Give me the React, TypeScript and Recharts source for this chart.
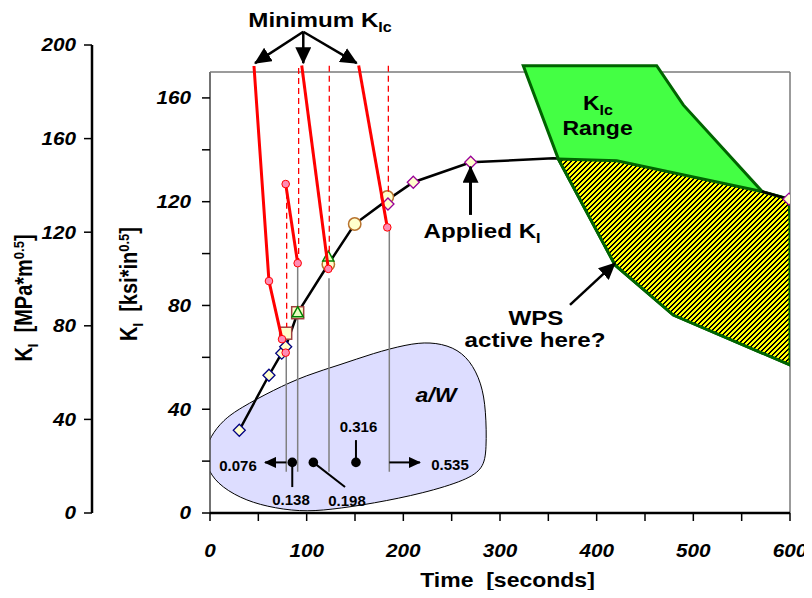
import { Area, ComposedChart, Label, Line, ReferenceDot, ReferenceLine, Scatter, XAxis, YAxis } from "recharts";

const FONT = "'Liberation Sans', Arial, Helvetica, sans-serif";
const SX = 1.15; // glyphs in the source are drawn a bit wide
type Pt = [number, number];
const rows = (a: Pt[]) => a.map(([t, k]) => ({ t, k }));

// axes
const timeTicks = [0, 50, 100, 150, 200, 250, 300, 350, 400, 450, 500, 550, 600];
const ksiTicks = [0, 20, 40, 60, 80, 100, 120, 140, 160];
const mpaTicks = [0, 40, 80, 120, 160, 200];
const frameTop = 170;

// applied K_I vs time  [s, ksi*in^0.5]
const appliedKI: Pt[] = [
  [30.3, 31.9], [61, 53.1], [74.2, 61.6], [78.3, 64.1], [90.7, 77.2], [122.4, 95.9], [149.7, 111.4],
  [183.6, 120.7], [210.3, 127.5], [269.7, 135.2], [355, 136.7], [420.7, 135.8], [570.7, 123.9], [599, 121],
];
const appliedTail: Pt[] = [[570.7, 123.9], [599, 121]];

// minimum K_Ic curves
const minKicA: Pt[] = [[45.5, 172.3], [61, 89.4], [74.5, 67]];
const minKicB: Pt[] = [[78.3, 126.8], [90.7, 96.3]];
const minKicC: Pt[] = [[94.9, 172.5], [122.4, 94.1]];
const minKicD: Pt[] = [[153.8, 172.5], [183.4, 110.1]];
const minKicMarks: Pt[] = [[61, 89.4], [74.5, 67], [78.3, 61.8], [78.3, 126.8], [90.7, 96.3], [122.4, 94.1], [183.4, 110.1]];

// symbols on the applied curve
const diamondsEarly: Pt[] = [[30.3, 31.9], [61, 53.1], [74.2, 61.6], [78.3, 64.1]];
const diamondsLate: Pt[] = [[184.1, 119.1], [210.3, 127.5], [269.7, 135.2], [599, 121]];
const circles: Pt[] = [[122.4, 95.9], [149.7, 111.4], [183.4, 121.8]];
const squares: Pt[] = [[78.3, 69.3], [90.7, 77.2]];
const triangles: Pt[] = [[90.7, 77.2], [122.4, 98.7]];

// vertical markers
const dashT = [79.3, 91.7, 123.4, 184.5];
const dashTop = [123.4, 171.5, 172.4, 172.4];
const dashBottom = [71.7, 97.5, 100.2, 122.6];
const grayT = [78.9, 90.7, 123.1, 185.5];
const grayTop = [60.9, 95, 90.5, 110.1];
const grayBottom = 15.9;

// K_Ic band and WPS region
const kicBand: Pt[] = [
  [324.1, 172.4], [462.1, 172.4], [489.6, 157.3], [600, 112.2], [600, 57.1], [479.3, 76.3], [419, 95.6], [360.3, 136.5],
];
const wpsRegion: Pt[] = [
  [360.3, 136.5], [420.7, 135.8], [570.7, 123.9], [599, 121], [600, 112.2], [600, 57.1], [479.3, 76.3], [419, 95.6],
];

// a/W bubble
const awBlob: Pt[] = [
  [-5.2, 23], [0, 29.4], [13.8, 35.9], [31, 40.4], [65.5, 47.4], [100, 53.2], [134.5, 57.1], [169, 61.6],
  [203.5, 65], [227.6, 66], [251.7, 64.1], [269, 59], [281, 50], [285.5, 39.7], [286.2, 24.3], [282.8, 17.2],
  [265.5, 12.7], [220.7, 7.6], [169, 3.7], [124, 1.2], [93, 0.5], [58.6, 2.4], [31, 5.7], [6.9, 11.4], [-3.4, 17.8],
];
const awDots: Pt[] = [[85.1, 19.5], [106.9, 19.5], [151, 19.5]];
const awLeaders: Pt[][] = [[[85.1, 19.5], [85.1, 10]], [[106.9, 19.5], [139.7, 10]], [[151, 19.5], [151, 28.1]]];
const awArrows: Pt[][] = [[[79, 19.5], [56.9, 19.5]], [[185.5, 19.5], [217.2, 19.5]]];

// callouts
const minKicFrom: Pt = [96.5, 185.5];
const minKicTips: Pt[] = [[46.6, 173.4], [96.5, 173.4], [151.8, 173.4]];
const appliedArrow: Pt[] = [[269.5, 114.9], [269.5, 133.5]];
const wpsArrow: Pt[] = [[372.4, 80.2], [419, 96.3]];

const seg = (a: Pt, b: Pt) => [{ x: a[0], y: a[1] }, { x: b[0], y: b[1] }];

const textStyle = { fontFamily: FONT, fontWeight: "bold" as const, fill: "#000" };

// pixel-aligned diagonal hatch tile
const HATCH = 5;
const hatchCells: Pt[] = [];
for (let y = 0; y < HATCH; y++) for (let x = 0; x < HATCH; x++) if ((x + y) % HATCH < 2) hatchCells.push([x, y]);

function Diamond({ cx, cy, stroke }: { cx: number; cy: number; stroke: string }) {
  const r = 6;
  return <polygon points={`${cx},${cy - r} ${cx + r},${cy} ${cx},${cy + r} ${cx - r},${cy}`} fill="#FFFFCC" stroke={stroke} strokeWidth={1.3} />;
}

const ksiTick = (p: any) => {
  const v = p.payload.value;
  if (v % 40 !== 0) return <g />;
  return (
    <text transform={`translate(${p.x},${p.y}) scale(${SX},1)`} textAnchor="end" dy="0.36em" fontSize={18} fontStyle="italic" {...textStyle}>
      {v}
    </text>
  );
};

const mpaTick = (p: any) => (
  <text transform={`translate(${p.x},${p.y}) scale(${SX},1)`} textAnchor="end" dy="0.36em" fontSize={18} fontStyle="italic" {...textStyle}>
    {p.payload.value}
  </text>
);

const timeTick = (p: any) => {
  const v = p.payload.value;
  if (v % 100 !== 0) return <g />;
  return (
    <text transform={`translate(${p.x},${p.y}) scale(${SX},1)`} textAnchor="middle" dy="0.36em" fontSize={18} fontStyle="italic" {...textStyle}>
      {v}
    </text>
  );
};

const timeTitle = (p: any) => {
  const vb = p.viewBox;
  return (
    <text transform={`translate(${vb.x + vb.width / 2 + 7.5},${vb.y + vb.height + 13.7}) scale(${SX},1)`} textAnchor="middle" fontSize={20} {...textStyle}>
      {"Time\u00a0\u00a0[seconds]"}
    </text>
  );
};

const kTitle = (unit: string, dx: number, dy: number) => (p: any) => {
  const vb = p.viewBox;
  return (
    <text transform={`translate(${vb.x + dx},${vb.y + vb.height / 2 + dy}) rotate(-90) scale(1,${SX})`} textAnchor="middle" fontSize={20} {...textStyle}>
      K<tspan fontSize={13} dy={5}>I</tspan>
      <tspan dy={-5}>{"\u00a0\u00a0[" + unit}</tspan>
      <tspan fontSize={13} dy={-7}>0.5</tspan>
      <tspan dy={7}>]</tspan>
    </text>
  );
};

const arrowShape = (marker: string, width: number) => (p: any) => (
  <line x1={p.x1} y1={p.y1} x2={p.x2} y2={p.y2} stroke="#000" strokeWidth={width} markerEnd={`url(#${marker})`} />
);

function note(key: string, at: Pt, size: number, content: any, italic = false, sx = SX) {
  return (
    <ReferenceDot
      key={key}
      x={at[0]}
      y={at[1]}
      yAxisId="ksi"
      r={0}
      ifOverflow="visible"
      zIndex={600}
      shape={(p: any) => (
        <text transform={`translate(${p.cx},${p.cy}) scale(${sx},1)`} textAnchor="middle" dy="0.36em" fontSize={size} fontStyle={italic ? "italic" : "normal"} {...textStyle}>
          {content}
        </text>
      )}
    />
  );
}

export default function App() {
  return (
    <ComposedChart width={804} height={582} margin={{ top: 37, right: 22, bottom: 17, left: 0 }}>
      <defs>
        <pattern id="hatch" width={HATCH} height={HATCH} patternUnits="userSpaceOnUse">
          <rect width={HATCH} height={HATCH} fill="#FFFF00" />
          {hatchCells.map(([x, y]) => (
            <rect key={`${x}-${y}`} x={x} y={y} width={1} height={1} fill="#000" shapeRendering="crispEdges" />
          ))}
        </pattern>
        <marker id="ah" markerUnits="userSpaceOnUse" markerWidth="17" markerHeight="16" refX="16" refY="8" orient="auto">
          <path d="M0,0 L17,8 L0,16 z" fill="#000" />
        </marker>
        <marker id="ahs" markerUnits="userSpaceOnUse" markerWidth="12" markerHeight="11" refX="11" refY="5.5" orient="auto">
          <path d="M0,0 L12,5.5 L0,11 z" fill="#000" />
        </marker>
      </defs>

      <XAxis
        type="number"
        dataKey="t"
        domain={[0, 600]}
        allowDataOverflow
        ticks={timeTicks}
        interval={0}
        tick={timeTick}
        tickSize={8}
        tickMargin={30}
        height={60}
        axisLine={{ stroke: "#000", strokeWidth: 2.5 }}
        tickLine={{ stroke: "#000", strokeWidth: 1.5 }}
      >
        <Label content={timeTitle} />
      </XAxis>
      <YAxis
        yAxisId="ksi"
        type="number"
        domain={[0, 180.4]}
        ticks={ksiTicks}
        interval={0}
        tick={ksiTick}
        tickSize={8}
        tickMargin={11}
        width={118}
        axisLine={false}
        tickLine={{ stroke: "#000", strokeWidth: 1.5 }}
      >
        <Label content={kTitle("ksi*in", 45, 5)} />
      </YAxis>
      <YAxis
        yAxisId="mpa"
        type="number"
        domain={[0, 200]}
        allowDataOverflow
        ticks={mpaTicks}
        interval={0}
        tick={mpaTick}
        tickSize={8}
        tickMargin={8}
        width={84}
        axisLine={{ stroke: "#000", strokeWidth: 2.5 }}
        tickLine={{ stroke: "#000", strokeWidth: 1.5 }}
      >
        <Label content={kTitle("MPa*m", 24, 19)} />
      </YAxis>

      {/* frame */}
      <ReferenceLine yAxisId="ksi" segment={seg([0, 0], [0, frameTop])} stroke="#444" strokeWidth={1.5} ifOverflow="visible" zIndex={105} />
      <ReferenceLine yAxisId="ksi" segment={seg([0, frameTop], [600, frameTop])} stroke="#7a7a7a" strokeWidth={1.5} ifOverflow="visible" zIndex={105} />
      <ReferenceLine yAxisId="ksi" segment={seg([600, 0], [600, frameTop])} stroke="#7a7a7a" strokeWidth={1.5} ifOverflow="visible" zIndex={105} />

      {/* a/W bubble */}
      <Area yAxisId="ksi" data={rows(awBlob)} dataKey="k" type="basisClosed" fill="#DDDDFF" fillOpacity={1} stroke="#000" strokeWidth={1} dot={false} activeDot={false} isAnimationActive={false} zIndex={100} />
      {grayT.map((t, i) => (
        <ReferenceLine key={`g${i}`} yAxisId="ksi" segment={seg([t, grayTop[i]], [t, grayBottom])} stroke="#808080" strokeWidth={1.5} ifOverflow="visible" zIndex={110} />
      ))}
      {awLeaders.map((l, i) => (
        <ReferenceLine key={`l${i}`} yAxisId="ksi" segment={seg(l[0], l[1])} stroke="#000" strokeWidth={2} ifOverflow="visible" zIndex={120} />
      ))}
      {awArrows.map((l, i) => (
        <ReferenceLine key={`a${i}`} yAxisId="ksi" segment={seg(l[0], l[1])} ifOverflow="visible" shape={arrowShape("ahs", 2)} zIndex={120} />
      ))}
      <Scatter yAxisId="ksi" data={rows(awDots)} dataKey="k" isAnimationActive={false} zIndex={125} shape={(p: any) => <circle cx={p.cx} cy={p.cy} r={4.8} fill="#000" />} />

      {/* applied K_I */}
      <Line yAxisId="ksi" data={rows(appliedKI)} dataKey="k" type="linear" stroke="#000" strokeWidth={2.5} dot={false} activeDot={false} isAnimationActive={false} zIndex={200} />

      {/* K_Ic range and WPS region */}
      <Area yAxisId="ksi" data={rows(kicBand)} dataKey="k" type="linearClosed" fill="#44FF44" fillOpacity={1} stroke="#006400" strokeWidth={3} dot={false} activeDot={false} isAnimationActive={false} zIndex={210} />
      <Area yAxisId="ksi" data={rows(wpsRegion)} dataKey="k" type="linearClosed" fill="url(#hatch)" fillOpacity={1} stroke="#006400" strokeWidth={3} dot={false} activeDot={false} isAnimationActive={false} zIndex={220} />
      <Line yAxisId="ksi" data={rows(appliedTail)} dataKey="k" type="linear" stroke="#000" strokeWidth={2.5} dot={false} activeDot={false} isAnimationActive={false} zIndex={230} />

      {/* symbols */}
      <Scatter yAxisId="ksi" data={rows(circles)} dataKey="k" isAnimationActive={false} zIndex={240} shape={(p: any) => <circle cx={p.cx} cy={p.cy} r={6.2} fill="#FFFFCC" stroke="#B8732E" strokeWidth={1.5} />} />
      <Scatter yAxisId="ksi" data={rows(squares)} dataKey="k" isAnimationActive={false} zIndex={250} shape={(p: any) => <rect x={p.cx - 6} y={p.cy - 6} width={12} height={12} fill="#FFFFCC" stroke="#A04040" strokeWidth={1.5} />} />
      <Scatter yAxisId="ksi" data={rows(triangles)} dataKey="k" isAnimationActive={false} zIndex={260} shape={(p: any) => <polygon points={`${p.cx},${p.cy - 6} ${p.cx + 5.5},${p.cy + 4} ${p.cx - 5.5},${p.cy + 4}`} fill="#E8FFC0" stroke="#008000" strokeWidth={1.5} />} />
      <Scatter yAxisId="ksi" data={rows(diamondsEarly)} dataKey="k" isAnimationActive={false} zIndex={270} shape={(p: any) => <Diamond cx={p.cx} cy={p.cy} stroke="#000080" />} />
      <Scatter yAxisId="ksi" data={rows(diamondsLate)} dataKey="k" isAnimationActive={false} zIndex={270} shape={(p: any) => <Diamond cx={p.cx} cy={p.cy} stroke="#990099" />} />

      {/* minimum K_Ic */}
      {dashT.map((t, i) => (
        <ReferenceLine key={`d${i}`} yAxisId="ksi" segment={seg([t, dashTop[i]], [t, dashBottom[i]])} stroke="#FF0000" strokeWidth={1.3} strokeDasharray="6 4" ifOverflow="visible" zIndex={280} />
      ))}
      {[minKicA, minKicB, minKicC, minKicD].map((c, i) => (
        <Line key={`r${i}`} yAxisId="ksi" data={rows(c)} dataKey="k" type="linear" stroke="#FF0000" strokeWidth={3} dot={false} activeDot={false} isAnimationActive={false} zIndex={290} />
      ))}
      <Scatter yAxisId="ksi" data={rows(minKicMarks)} dataKey="k" isAnimationActive={false} zIndex={300} shape={(p: any) => <circle cx={p.cx} cy={p.cy} r={3.8} fill="#FF8CB4" stroke="#FF0000" strokeWidth={1} />} />

      {/* callouts */}
      {minKicTips.map((tip, i) => (
        <ReferenceLine key={`m${i}`} yAxisId="ksi" segment={seg(minKicFrom, tip)} ifOverflow="visible" shape={arrowShape("ah", 2.5)} zIndex={600} />
      ))}
      <ReferenceLine yAxisId="ksi" segment={seg(appliedArrow[0], appliedArrow[1])} ifOverflow="visible" shape={arrowShape("ah", 3)} zIndex={600} />
      <ReferenceLine yAxisId="ksi" segment={seg(wpsArrow[0], wpsArrow[1])} ifOverflow="visible" shape={arrowShape("ah", 2.5)} zIndex={600} />

      {note("n1", [113.8, 190.2], 21, <>Minimum K<tspan fontSize={14} dy={5}>Ic</tspan></>)}
      {note("n2", [281.4, 109.1], 21, <>Applied K<tspan fontSize={14} dy={5}>I</tspan></>)}
      {note("n3", [401.4, 158.3], 20, <>K<tspan fontSize={14} dy={5}>Ic</tspan></>)}
      {note("n4", [400.9, 148.6], 20, "Range")}
      {note("n5", [337.2, 75.4], 21, "WPS")}
      {note("n6", [336.2, 67], 21, "active here?")}
      {note("n7", [233.8, 45.7], 20, "a/W", true)}
      {note("n8", [29, 18.3], 15, "0.076", false, 1)}
      {note("n9", [83.8, 5.2], 15, "0.138", false, 1)}
      {note("n10", [141.7, 4.6], 15, "0.198", false, 1)}
      {note("n11", [153.6, 33.2], 15, "0.316", false, 1)}
      {note("n12", [248.3, 18.5], 15, "0.535", false, 1)}
    </ComposedChart>
  );
}
